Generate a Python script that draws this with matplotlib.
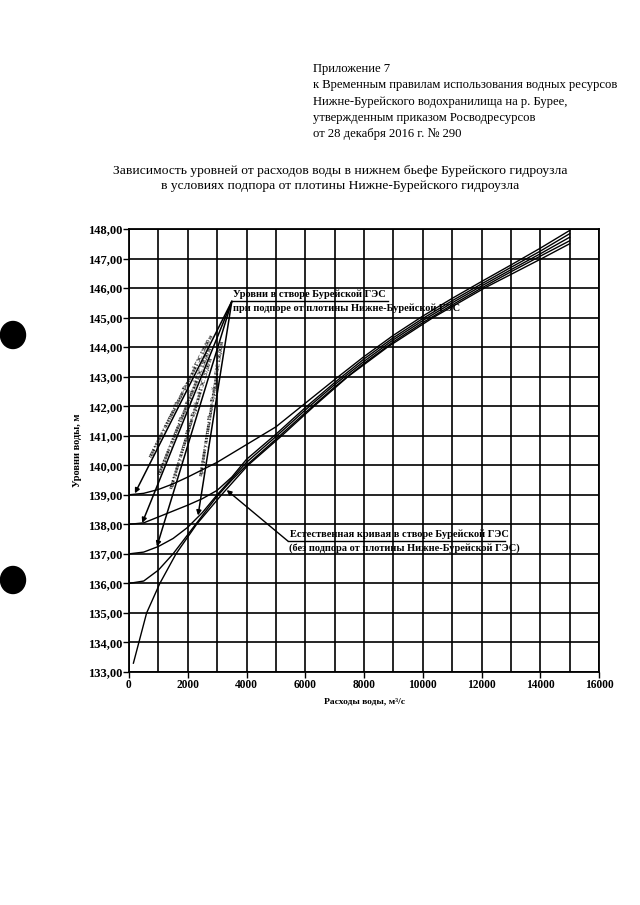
import numpy as np
import matplotlib
matplotlib.use('Agg')
import matplotlib.pyplot as plt
from matplotlib.patches import Ellipse

plt.rcParams['font.family'] = ['Liberation Serif', 'DejaVu Serif']

# natural stage-discharge curve (no backwater)
q_nat = [150, 600, 1050, 1600, 2300, 3150, 4050, 5200, 6300, 7450, 8800, 10350, 12100, 14050, 15000]
h_nat = [133.3, 135.0, 136.0, 137.0, 138.0, 139.0, 140.0, 141.0, 142.0, 143.0, 144.0, 145.0, 146.0, 147.0, 147.5]

# curves with backwater from the Nizhne-Bureyskaya dam
q_bw = [0, 500, 1000, 1500, 2000, 2500, 3000, 3500, 4000, 5000, 6000, 7000, 8000,
        9000, 10000, 11000, 12000, 13000, 14000, 15000]
h_136 = [136.0, 136.08, 136.45, 137.0, 137.65, 138.3, 138.95, 139.5, 140.0, 140.88, 141.78, 142.65,
         143.45, 144.18, 144.83, 145.43, 146.0, 146.55, 147.08, 147.6]
h_137 = [137.0, 137.06, 137.25, 137.52, 137.9, 138.4, 139.0, 139.55, 140.1, 140.97, 141.87, 142.73,
         143.52, 144.25, 144.9, 145.5, 146.07, 146.62, 147.16, 147.72]
h_138 = [138.0, 138.05, 138.25, 138.45, 138.65, 138.87, 139.15, 139.6, 140.2, 141.05, 141.95, 142.8,
         143.6, 144.32, 144.97, 145.57, 146.14, 146.7, 147.25, 147.84]
h_139 = [139.0, 139.05, 139.18, 139.37, 139.6, 139.85, 140.1, 140.4, 140.7, 141.3, 142.1, 142.9,
         143.68, 144.4, 145.05, 145.65, 146.22, 146.78, 147.35, 147.95]

bw_levels = ['139,00', '138,00', '137,00', '136,00']
# arrow tips on the backwater curves (Q, H)
tip_q = [200, 450, 950, 2350]
tip_h = [139.05, 138.05, 137.25, 138.3]
apex = (3500, 145.55)

header = ['Приложение 7',
          'к Временным правилам использования водных ресурсов',
          'Нижне-Бурейского водохранилища на р. Бурее,',
          'утвержденным приказом Росводресурсов',
          'от 28 декабря 2016 г. № 290']
title = ('Зависимость уровней от расходов воды в нижнем бьефе Бурейского гидроузла\n'
         'в условиях подпора от плотины Нижне-Бурейского гидроузла')

fig = plt.figure(figsize=(6.4, 9.05), dpi=100)
fig.patch.set_facecolor('white')

for i, line in enumerate(header):
    fig.text(313 / 640, 1 - (63 + i * 16.3) / 905, line, fontsize=9.1, va='top', ha='left')
fig.text(0.532, 1 - 165 / 905, title, fontsize=9.7, ha='center', va='top', linespacing=1.3)

ax = fig.add_axes([129 / 640, 1 - 672 / 905, 470 / 640, 443 / 905])
ax.set_xlim(0, 16000)
ax.set_ylim(133, 148)
ax.set_xticks(np.arange(0, 16001, 2000))
ax.set_xticks(np.arange(0, 16001, 1000), minor=True)
ax.set_yticks(np.arange(133, 148.01, 1))
ax.set_yticklabels([f'{v:.2f}'.replace('.', ',') for v in np.arange(133, 148.01, 1)],
                   fontsize=9, fontweight='bold')
ax.set_xticklabels([str(v) for v in range(0, 16001, 2000)], fontsize=8.3, fontweight='bold')
ax.tick_params(which='major', length=4, width=1, direction='out', pad=1)
ax.tick_params(which='minor', length=0)
ax.grid(True, which='both', color='black', linewidth=1.2)
for s in ax.spines.values():
    s.set_linewidth(1.3)
ax.set_xlabel('Расходы воды, м³/с', fontsize=6.8, fontweight='bold', labelpad=5)
ax.set_ylabel('Уровни воды, м', fontsize=7.5, fontweight='bold', labelpad=4)

for h in [h_139, h_138, h_137, h_136]:
    ax.plot(q_bw, h, color='black', linewidth=1.0)
ax.plot(q_nat, h_nat, color='black', linewidth=1.0)

# leader lines from the label to each backwater curve
fig.canvas.draw()
for lev, tq, th in zip(bw_levels, tip_q, tip_h):
    ax.annotate('', xy=(tq, th), xytext=apex,
                arrowprops=dict(arrowstyle='-|>', color='black', lw=1.1,
                                mutation_scale=7, shrinkA=0, shrinkB=0))
    p0 = ax.transData.transform((tq, th))
    p1 = ax.transData.transform(apex)
    ang = np.degrees(np.arctan2(p1[1] - p0[1], p1[0] - p0[0]))
    mq, mh = tq + 0.5 * (apex[0] - tq), th + 0.5 * (apex[1] - th)
    ax.text(mq, mh, f'при уровне у плотины Нижне-Бурейской ГЭС {lev} м',
            rotation=ang, rotation_mode='anchor', fontsize=4, fontweight='bold',
            ha='center', va='bottom')

ax.plot([apex[0], 8800], [apex[1], apex[1]], color='black', linewidth=1.0)
ax.text(apex[0] + 50, apex[1] + 0.07, 'Уровни в створе Бурейской ГЭС',
        fontsize=7.5, fontweight='bold', ha='left', va='bottom')
ax.text(apex[0] + 50, apex[1] - 0.07, 'при подпоре от плотины Нижне-Бурейской ГЭС',
        fontsize=7.5, fontweight='bold', ha='left', va='top')

nat_anchor = (5413, 137.43)
ax.annotate('', xy=(3326, 139.16), xytext=nat_anchor,
            arrowprops=dict(arrowstyle='-|>', color='black', lw=1.0,
                            mutation_scale=7, shrinkA=0, shrinkB=0))
ax.plot([nat_anchor[0], 12800], [nat_anchor[1], nat_anchor[1]], color='black', linewidth=1.0)
ax.text(nat_anchor[0] + 60, nat_anchor[1] + 0.07, 'Естественная кривая в створе Бурейской ГЭС',
        fontsize=7.5, fontweight='bold', ha='left', va='bottom')
ax.text(nat_anchor[0] + 20, nat_anchor[1] - 0.07, '(без подпора от плотины Нижне-Бурейской ГЭС)',
        fontsize=7.5, fontweight='bold', ha='left', va='top')

# punch holes of the scanned page
for yy in [335, 580]:
    fig.patches.append(Ellipse((13 / 640, 1 - yy / 905), 25 / 640, 27 / 905,
                               transform=fig.transFigure, color='black'))

fig.savefig('out.png', dpi=100, facecolor='white')
